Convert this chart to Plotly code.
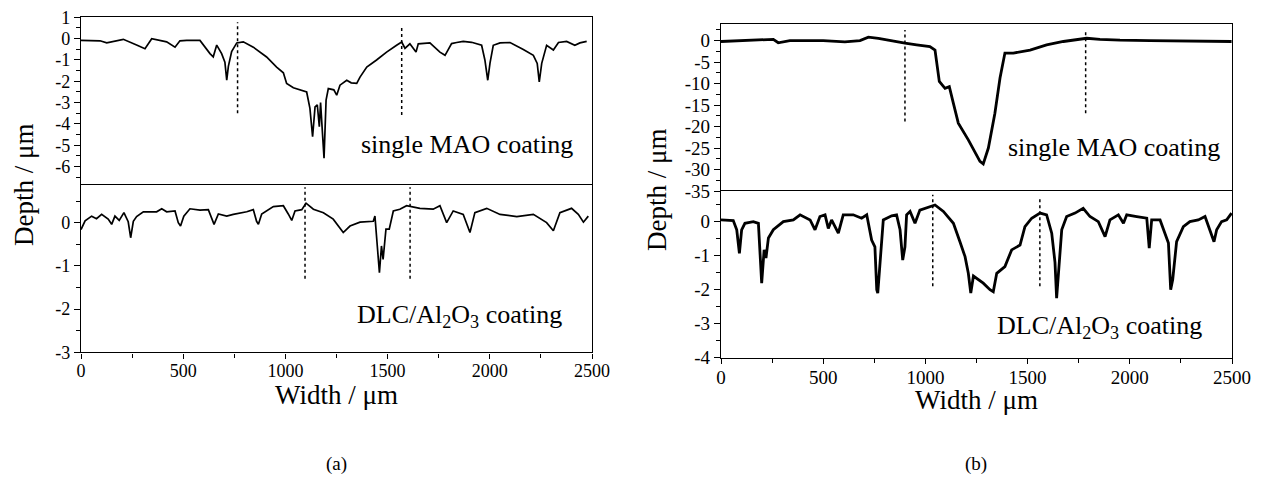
import plotly.graph_objects as go

# ---------------- data ----------------
# (a) single MAO coating profile
a_top_x = [0, 93, 126, 207, 272, 313, 346, 419, 460, 484, 517, 582, 631, 647, 664, 688, 704, 713, 721, 737,
           762, 794, 843, 908, 957, 990, 1006, 1039, 1104, 1120, 1133, 1145, 1156, 1166, 1172, 1182, 1189, 1199, 1210, 1237,
           1251, 1267, 1300, 1322, 1349, 1365, 1398, 1446, 1495, 1544, 1569, 1585, 1609, 1639, 1650, 1707, 1745, 1756, 1781, 1813,
           1838, 1870, 1911, 1960, 1976, 1990, 2001, 2017, 2050, 2099, 2164, 2213, 2232, 2242, 2254, 2278, 2311, 2336, 2376, 2416,
           2441, 2474]
a_top_y = [-0.08, -0.1, -0.2, -0.03, -0.3, -0.47, 0, -0.15, -0.4, -0.1, -0.08, -0.08, -0.7, -0.85, -0.3, -0.7, -1.1, -1.95, -1.3, -0.6,
           -0.2, -0.15, -0.4, -0.86, -1.33, -1.6, -2.1, -2.3, -2.5, -3.27, -4.6, -3.2, -3.1, -4.13, -3.0, -4.5, -5.6, -2.88, -2.34, -2.4,
           -2.65, -2.18, -1.95, -2.07, -2.1, -1.8, -1.33, -1.0, -0.63, -0.31, -0.16, -0.45, -0.24, -0.63, -0.24, -0.2, -0.5, -0.63, -0.78, -0.23,
           -0.18, -0.13, -0.17, -0.31, -1.0, -1.95, -1.15, -0.31, -0.2, -0.18, -0.51, -0.78, -1.16, -2.03, -1.16, -0.31, -0.53, -0.18, -0.13, -0.31,
           -0.2, -0.13]
# (a) DLC/Al2O3 coating profile
a_bot_x = [0, 20, 52, 76, 101, 133, 150, 166, 187, 210, 231, 243, 256, 272, 305, 370, 395, 419, 460, 476,
           487, 503, 533, 582, 623, 639, 651, 672, 713, 745, 811, 843, 859, 868, 884, 941, 990, 1014, 1031, 1047,
           1080, 1101, 1137, 1186, 1234, 1283, 1316, 1365, 1430, 1438, 1450, 1460, 1470, 1478, 1492, 1508, 1528, 1560, 1593, 1658,
           1723, 1756, 1789, 1821, 1870, 1903, 1927, 1985, 2050, 2132, 2213, 2278, 2311, 2343, 2400, 2433, 2458, 2482]
a_bot_y = [-0.16, 0.04, 0.15, 0.09, 0.19, 0.08, -0.04, 0.15, 0.05, 0.23, 0.02, -0.35, 0.03, 0.14, 0.25, 0.25, 0.32, 0.25, 0.27, 0,
           -0.08, 0.15, 0.32, 0.29, 0.3, 0.08, -0.04, 0.2, 0.15, 0.19, 0.25, 0.3, 0.03, -0.04, 0.2, 0.37, 0.39, 0.2, 0.05, 0.27,
           0.3, 0.45, 0.31, 0.23, 0.08, -0.23, -0.08, 0.01, 0.03, 0.15, -0.54, -1.16, -0.54, -0.85, -0.15, -0.15, 0.27, 0.31, 0.39, 0.33,
           0.31, 0.39, 0, 0.27, 0.19, -0.23, 0.23, 0.33, 0.19, 0.14, 0.19, 0, -0.19, 0.23, 0.33, 0.19, 0.01, 0.15]
# (b) single MAO coating profile
b_top_x = [0, 100, 256, 280, 337, 500, 606, 680, 721, 770, 843, 900, 957, 1022, 1047, 1055, 1068, 1096, 1117, 1137,
           1161, 1210, 1267, 1283, 1308, 1340, 1365, 1389, 1430, 1512, 1593, 1675, 1789, 1854, 1952, 2099, 2300, 2498]
b_top_y = [-0.2, 0, 0.3, -0.5, 0, 0, -0.3, 0, 0.8, 0.5, -0.2, -0.6, -1.0, -1.4, -2.2, -5.3, -9.5, -11.1, -10.7, -14.6,
           -19.2, -23.1, -28.1, -28.7, -25, -16.9, -8.7, -2.9, -2.9, -2.2, -1.0, -0.2, 0.55, 0.3, 0.1, 0, -0.1, -0.2]
# (b) DLC/Al2O3 coating profile
b_bot_x = [0, 60, 77, 90, 101, 117, 158, 183, 199, 211, 220, 232, 256, 305, 354, 387, 436, 460, 484, 509,
           525, 541, 574, 598, 647, 688, 713, 737, 753, 762, 767, 778, 794, 835, 859, 876, 889, 900, 908, 925,
           949, 973, 1022, 1047, 1088, 1120, 1137, 1169, 1194, 1210, 1222, 1235, 1260, 1283, 1316, 1332, 1349, 1389, 1422, 1463,
           1487, 1520, 1561, 1593, 1618, 1634, 1642, 1655, 1667, 1691, 1732, 1772, 1805, 1846, 1879, 1903, 1944, 1969, 1985, 2034,
           2083, 2095, 2107, 2148, 2172, 2189, 2200, 2210, 2229, 2262, 2294, 2335, 2368, 2392, 2412, 2425, 2449, 2474, 2498]
b_bot_y = [0.05, 0.03, -0.24, -0.93, -0.24, -0.05, 0, -0.05, -1.81, -0.83, -1.07, -0.48, -0.24, 0, 0.05, 0.2, 0.05, -0.24, 0.15, 0.2,
           -0.2, 0.05, -0.34, 0.2, 0.2, 0.1, 0.2, -0.54, -0.74, -2.0, -2.1, -1.13, 0.05, 0.17, 0.2, -0.24, -1.13, -0.74, 0.2, 0.3,
           -0.05, 0.34, 0.44, 0.49, 0.3, 0.05, -0.05, -0.59, -1.03, -1.52, -2.1, -1.6, -1.7, -1.81, -2.0, -2.06, -1.52, -1.32, -0.83, -0.69,
           -0.15, 0.1, 0.25, 0.2, -0.34, -1.2, -2.25, -1.3, -0.24, 0.15, 0.25, 0.39, 0.15, 0, -0.44, 0.05, 0.2, -0.05, 0.2, 0.15,
           0.1, -0.78, 0.05, 0.05, -0.34, -0.63, -2.0, -1.7, -0.59, -0.15, 0, 0.05, 0.15, -0.24, -0.59, -0.24, 0, 0.05, 0.25]

# dotted marker lines: x position, lower end, upper end
a_top_marks_x = [766, 1569]
a_top_marks_lo = [-3.5, -3.58]
a_top_marks_hi = [0.77, 0.62]
a_bot_marks_x = [1096, 1610]
a_bot_marks_lo = [-1.3, -1.3]
a_bot_marks_hi = [0.82, 0.82]
b_top_marks_x = [900, 1784]
b_top_marks_lo = [-18.8, -16.9]
b_top_marks_hi = [2.5, 2.1]
b_bot_marks_x = [1036, 1560]
b_bot_marks_lo = [-1.9, -1.9]
b_bot_marks_hi = [0.79, 0.74]

x_ticks = [0, 500, 1000, 1500, 2000, 2500]
x_ticktext = ["0", "500", "1000", "1500", "2000", "2500"]
a_top_ticks = [1, 0, -1, -2, -3, -4, -5, -6]
a_top_ticktext = ["1", "0", "-1", "-2", "-3", "-4", "-5", "-6"]
a_bot_ticks = [0, -1, -2, -3]
a_bot_ticktext = ["0", "-1", "-2", "-3"]
b_top_ticks = [0, -5, -10, -15, -20, -25, -30, -35]
b_top_ticktext = ["0", "-5", "-10", "-15", "-20", "-25", "-30", "-35"]
b_bot_ticks = [0, -1, -2, -3, -4]
b_bot_ticktext = ["0", "-1", "-2", "-3", "-4"]

label_top = "single MAO coating"
label_bot = "DLC/Al<sub>2</sub>O<sub>3</sub> coating"
x_title = "Width / μm"
y_title = "Depth / μm"

# ---------------- figure ----------------
SERIF = "Liberation Serif"
fig = go.Figure()

def add_curve(x, y, xa, ya, w):
    fig.add_trace(go.Scatter(x=x, y=y, xaxis=xa, yaxis=ya, mode="lines",
                             line=dict(color="black", width=w), showlegend=False, hoverinfo="skip"))

def add_marks(xs, lo, hi, xa, ya):
    for xv, l, h in zip(xs, lo, hi):
        fig.add_trace(go.Scatter(x=[xv, xv], y=[l, h], xaxis=xa, yaxis=ya, mode="lines",
                                 line=dict(color="black", width=1.5, dash="dot"),
                                 showlegend=False, hoverinfo="skip"))

add_curve(a_top_x, a_top_y, "x", "y", 1.7)
add_curve(a_bot_x, a_bot_y, "x2", "y2", 1.7)
add_curve(b_top_x, b_top_y, "x3", "y3", 2.8)
add_curve(b_bot_x, b_bot_y, "x4", "y4", 2.8)
add_marks(a_top_marks_x, a_top_marks_lo, a_top_marks_hi, "x", "y")
add_marks(a_bot_marks_x, a_bot_marks_lo, a_bot_marks_hi, "x2", "y2")
add_marks(b_top_marks_x, b_top_marks_lo, b_top_marks_hi, "x3", "y3")
add_marks(b_bot_marks_x, b_bot_marks_lo, b_bot_marks_hi, "x4", "y4")

W, H = 1270, 479
OFF = 8  # the page body adds an 8px margin around the figure
def px(v): return (v - OFF) / W
def py(v): return 1 - (v - OFF) / H

left_dom = [px(81), px(592)]
right_dom = [px(721), px(1232)]

base = dict(showline=True, linecolor="black", linewidth=1.4,
            showgrid=False, zeroline=False, automargin=False)

def xaxis_hidden(dom, anchor):
    # top panel: only its top border line; the separator comes from the lower panel
    return dict(base, domain=dom, anchor=anchor, side="top", mirror=False, range=[0, 2500],
                showticklabels=False, ticks="")

def xaxis_shown(dom, anchor, fs):
    return dict(base, domain=dom, anchor=anchor, mirror=True, range=[0, 2500],
                tickvals=x_ticks, ticktext=x_ticktext,
                ticks="outside", ticklen=5, tickwidth=1.3, tickcolor="black", ticklabelstandoff=-3,
                tickfont=dict(family=SERIF, size=fs, color="black"),
                minor=dict(ticks="outside", dtick=250, tick0=0, ticklen=4, tickwidth=1.2, tickcolor="black"))

def yaxis(dom, anchor, rng, vals, text, minor_dt, fs):
    return dict(base, domain=dom, anchor=anchor, mirror=True, range=rng, tickvals=vals, ticktext=text,
                ticks="outside", ticklen=6, tickwidth=1.3, tickcolor="black", ticklabeloverflow="allow",
                tickfont=dict(family=SERIF, size=fs, color="black"),
                minor=dict(ticks="outside", dtick=minor_dt, tick0=0, ticklen=4, tickwidth=1.2, tickcolor="black"))

fig.update_layout(
    template="none",
    width=W, height=H, margin=dict(l=0, r=0, t=0, b=0, pad=0, autoexpand=False),
    paper_bgcolor="white", plot_bgcolor="white", showlegend=False,
    font=dict(family=SERIF, color="black"),
    xaxis=xaxis_hidden(left_dom, "y"),
    xaxis2=xaxis_shown(left_dom, "y2", 18),
    xaxis3=xaxis_hidden(right_dom, "y3"),
    xaxis4=xaxis_shown(right_dom, "y4", 19),
    yaxis=yaxis([py(185), py(16.9)], "x", [-6.86, 1.02], a_top_ticks, a_top_ticktext, 0.5, 18),
    yaxis2=yaxis([py(352.3), py(185)], "x2", [-3, 0.87], a_bot_ticks, a_bot_ticktext, 0.5, 18),
    yaxis3=yaxis([py(191), py(24.3)], "x3", [-35, 3.8], b_top_ticks, b_top_ticktext, 2.5, 19),
    yaxis4=yaxis([py(357.7), py(191)], "x4", [-4, 0.9], b_bot_ticks, b_bot_ticktext, 0.5, 19),
)

ann_font = dict(family=SERIF, size=26, color="black")
title_font = dict(family=SERIF, size=27, color="black")
C = dict(showarrow=False, xanchor="center", yanchor="middle")
annotations = [
    dict(C, x=1886, y=-4.94, xref="x", yref="y", text=label_top, font=ann_font),
    dict(C, x=1851, y=-2.17, xref="x2", yref="y2", text=label_bot, font=ann_font),
    dict(C, x=1922, y=-24.95, xref="x3", yref="y3", text=label_top, font=ann_font),
    dict(C, x=1854, y=-3.09, xref="x4", yref="y4", text=label_bot, font=ann_font),
    dict(C, x=px(336), y=py(395), xref="paper", yref="paper", text=x_title, font=title_font),
    dict(C, x=px(976), y=py(400), xref="paper", yref="paper", text=x_title, font=title_font),
    dict(C, x=px(24), y=py(185), xref="paper", yref="paper", text=y_title, textangle=-90, font=title_font),
    dict(C, x=px(657), y=py(190), xref="paper", yref="paper", text=y_title, textangle=-90, font=title_font),
    dict(C, x=px(336), y=py(464), xref="paper", yref="paper", text="(a)",
         font=dict(family=SERIF, size=19, color="black")),
    dict(C, x=px(976), y=py(464), xref="paper", yref="paper", text="(b)",
         font=dict(family=SERIF, size=19, color="black")),
]
fig.update_layout(annotations=annotations)

fig.write_html("out.html")
